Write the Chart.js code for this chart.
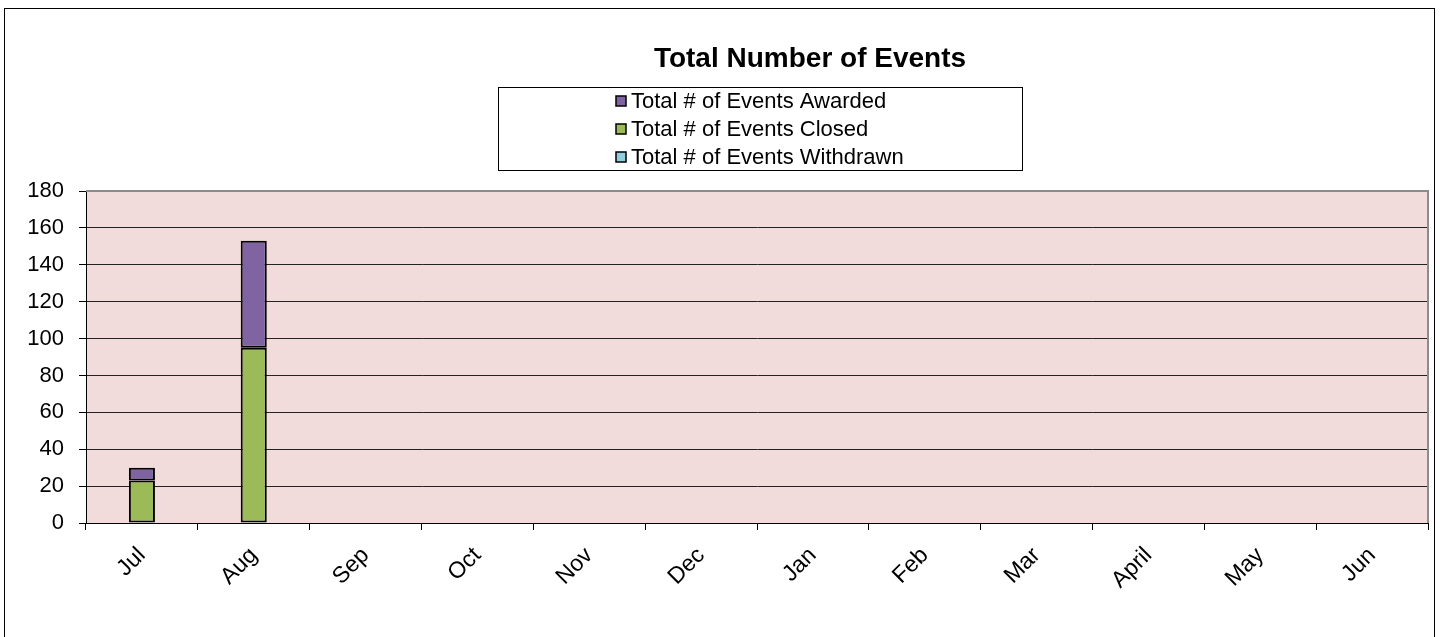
<!DOCTYPE html>
<html><head><meta charset="utf-8">
<script src="https://cdn.jsdelivr.net/npm/chart.js@4/dist/chart.umd.min.js"></script>
<style>html,body{margin:0;padding:0;background:#fff}canvas{display:block}</style>
</head><body>
<canvas id="c" width="1440" height="637"></canvas>
<script>
const categories = ['Jul','Aug','Sep','Oct','Nov','Dec','Jan','Feb','Mar','April','May','Jun'];
const closedValues = [23, 95, null, null, null, null, null, null, null, null, null, null];
const awardedValues = [7, 58, null, null, null, null, null, null, null, null, null, null];
const withdrawnValues = [0, 0, null, null, null, null, null, null, null, null, null, null];
const yTicks = [0, 20, 40, 60, 80, 100, 120, 140, 160, 180];
const titleText = 'Total Number of Events';
const legendOrder = ['Total # of Events Awarded', 'Total # of Events Closed', 'Total # of Events Withdrawn'];

const FONT = '"Liberation Sans", Arial, sans-serif';

const decor = {
  id: 'decor',
  beforeDraw(chart) {
    const {ctx, chartArea: a} = chart;
    ctx.save();
    ctx.fillStyle = '#fff';
    ctx.fillRect(0, 0, chart.width, chart.height);
    ctx.strokeStyle = '#000';
    ctx.lineWidth = 1;
    ctx.strokeRect(4.5, 8.5, 1430, 640);
    ctx.fillStyle = '#F2DCDB';
    ctx.fillRect(a.left, a.top, a.right - a.left, a.bottom - a.top);
    ctx.restore();
  },
  afterDatasetsDraw(chart) {
    const {ctx, chartArea: a} = chart;
    ctx.save();
    ctx.strokeStyle = '#8c8c8c';
    ctx.lineWidth = 2;
    ctx.beginPath();
    ctx.moveTo(a.left, a.top);
    ctx.lineTo(a.right, a.top);
    ctx.lineTo(a.right, a.bottom);
    ctx.stroke();
    ctx.restore();
  },
  afterDraw(chart) {
    const {ctx} = chart;
    ctx.save();
    ctx.fillStyle = '#000';
    ctx.font = 'bold 28px ' + FONT;
    ctx.textAlign = 'center';
    ctx.textBaseline = 'middle';
    ctx.fillText(titleText, 810, 59);
    ctx.strokeStyle = '#000';
    ctx.lineWidth = 1;
    ctx.strokeRect(498.5, 87.5, 524, 83);
    ctx.font = '22px ' + FONT;
    ctx.textAlign = 'left';
    legendOrder.forEach((lbl, i) => {
      const ds = chart.data.datasets.find(d => d.label === lbl);
      const cy = 101 + i * 28;
      ctx.fillStyle = ds.backgroundColor;
      ctx.fillRect(616, cy - 5, 10, 10);
      ctx.strokeStyle = '#000';
      ctx.lineWidth = 1.5;
      ctx.strokeRect(616, cy - 5, 10, 10);
      ctx.fillStyle = '#000';
      ctx.fillText(lbl, 631, cy + 1);
    });
    ctx.restore();
  }
};

new Chart(document.getElementById('c'), {
  type: 'bar',
  data: {
    labels: categories,
    datasets: [
      {label: 'Total # of Events Closed', data: closedValues, backgroundColor: '#9BBB59'},
      {label: 'Total # of Events Awarded', data: awardedValues, backgroundColor: '#8064A2'},
      {label: 'Total # of Events Withdrawn', data: withdrawnValues, backgroundColor: '#92CDDC'}
    ]
  },
  options: {
    responsive: false,
    animation: false,
    events: [],
    layout: {padding: {left: 0, top: 191, right: 12, bottom: 0}},
    datasets: {bar: {barPercentage: 0.233, categoryPercentage: 1, borderColor: '#000', borderWidth: 2, borderSkipped: false}},
    plugins: {legend: {display: false}, title: {display: false}, tooltip: {enabled: false}},
    scales: {
      x: {
        stacked: true,
        offset: true,
        grid: {display: true, drawOnChartArea: false, drawTicks: true, tickLength: 7, color: '#000', offset: true},
        border: {display: true, color: '#000', width: 1},
        ticks: {color: '#000', font: {family: FONT, size: 23}, maxRotation: 45, minRotation: 45, padding: 12, autoSkip: false},
        afterFit(s) { s.height = 114; }
      },
      y: {
        stacked: true,
        min: 0, max: 180,
        afterBuildTicks(s) { s.ticks = yTicks.map(v => ({value: v})); },
        grid: {color: '#222', lineWidth: 1, drawTicks: true, tickLength: 7, tickColor: '#000'},
        border: {display: true, color: '#000', width: 1},
        ticks: {color: '#000', font: {family: FONT, size: 22}, padding: 15},
        afterFit(s) { s.width = 86; }
      }
    }
  },
  plugins: [decor]
});
</script>
</body></html>
